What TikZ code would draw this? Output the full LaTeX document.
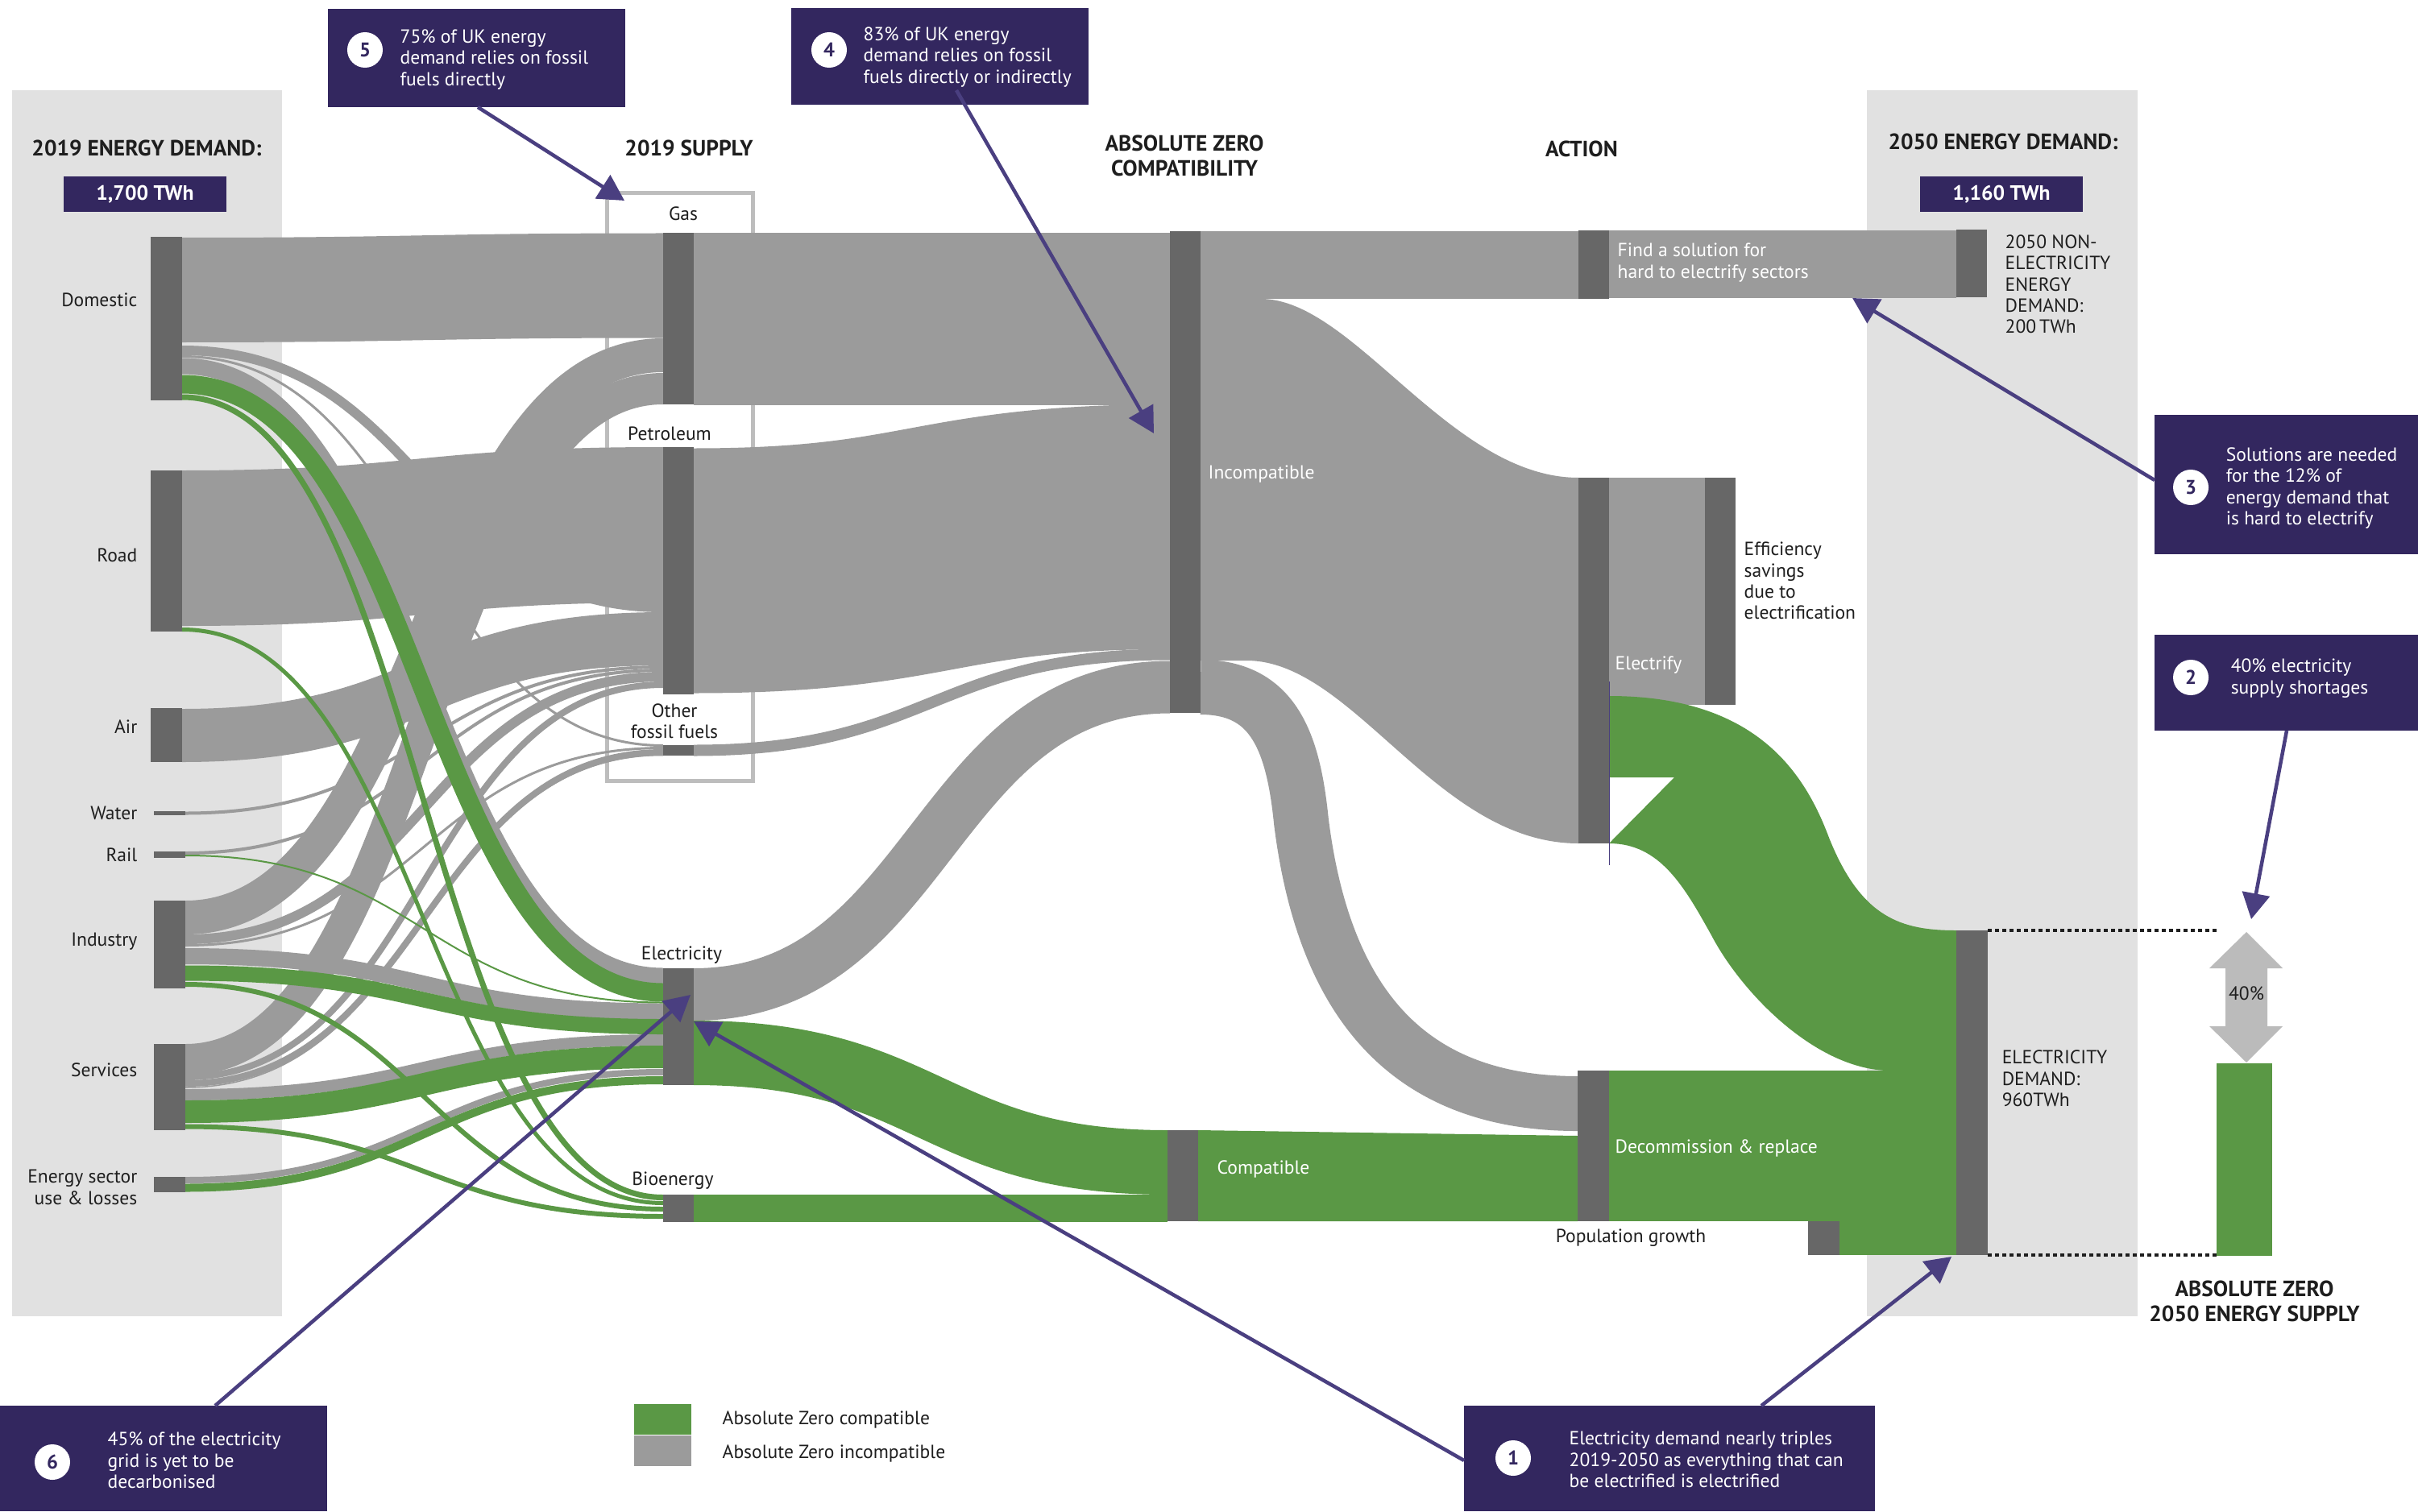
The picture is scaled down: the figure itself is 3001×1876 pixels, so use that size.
\documentclass[tikz,border=0pt]{standalone}
\usepackage{fontspec}
\setmainfont{PT Sans}
\usetikzlibrary{arrows.meta}
\definecolor{flowgrey}{HTML}{9B9B9B}
\definecolor{bargrey}{HTML}{676767}
\definecolor{zgreen}{HTML}{5A9845}
\definecolor{panel}{HTML}{E1E1E1}
\definecolor{boxpurple}{HTML}{33275F}
\definecolor{arrowpurple}{HTML}{4A3F80}
\definecolor{outlinegrey}{HTML}{BDBDBD}
\definecolor{dblarrow}{HTML}{BBBBBB}
\definecolor{txt}{HTML}{1E1E1E}
\newcommand\lk[6]{\draw[#1, line width=#6*0.01cm] (#2,#3) .. controls ({(#2+#4)/2},#3) and ({(#2+#4)/2},#5) .. (#4,#5);}
\begin{document}
\begin{tikzpicture}[x=0.01cm,y=-0.01cm,
  lbl/.style={font=\fontsize{6.7pt}{7.5pt}\selectfont, inner sep=0, text=txt},
  wlbl/.style={lbl, text=white},
  hdr/.style={font=\fontsize{7.8pt}{8.8pt}\selectfont\bfseries, inner sep=0, text=txt},
  valbox/.style={fill=boxpurple, text=white, font=\fontsize{7.3pt}{8pt}\selectfont\bfseries, minimum width=2.01cm, minimum height=0.43cm, inner sep=0},
  ctext/.style={font=\fontsize{6.7pt}{7.5pt}\selectfont, text=white, inner sep=0, align=left, anchor=west},
  numc/.style={circle, fill=white, minimum size=0.44cm, inner sep=0, font=\fontsize{7pt}{8pt}\selectfont\bfseries, text=boxpurple},
  carrow/.style={draw=arrowpurple, line width=0.045cm, -{Triangle[length=0.32cm,width=0.34cm]}},
  dotline/.style={draw=txt, line width=0.04cm, dash pattern=on 0.05cm off 0.04cm}
]
\useasboundingbox (0,0) rectangle (3001,1876);
% panels
\fill[panel] (15,112) rectangle (350,1634);
\fill[panel] (2317,112) rectangle (2653,1634);
% supply outline box
\draw[outlinegrey, line width=0.05cm] (753,240) rectangle (934,969);

% ---------- grey flows, left ----------
\lk{flowgrey}{226}{360}{823}{354.5}{130}
\lk{flowgrey}{226}{435}{823}{754}{12}
\lk{flowgrey}{226}{442.5}{823}{925.5}{3}
\lk{flowgrey}{226}{454.5}{823}{1211.5}{20}
\lk{flowgrey}{226}{680.5}{823}{651.5}{193}
\lk{flowgrey}{226}{913}{823}{793}{66}
\lk{flowgrey}{230}{1009.5}{823}{828}{4}
\lk{flowgrey}{230}{1059}{823}{832}{4}
\lk{flowgrey}{230}{1139}{823}{441}{42}
\lk{flowgrey}{230}{1166}{823}{840}{12}
\lk{flowgrey}{230}{1173.5}{823}{928.5}{3}
\lk{flowgrey}{230}{1187}{823}{1255.5}{20}
\lk{flowgrey}{230}{1315.5}{823}{482.5}{39}
\lk{flowgrey}{230}{1337}{823}{850}{8}
\lk{flowgrey}{230}{1345}{823}{934}{8}
\lk{flowgrey}{230}{1350}{823}{937.5}{1.5}
\lk{flowgrey}{230}{1359}{823}{1291}{14}
\lk{flowgrey}{230}{1465}{823}{1331}{8}

% ---------- grey flows, right ----------
\fill[flowgrey] (861,289) rectangle (1452,503);
\lk{flowgrey}{861}{708.5}{1452}{654}{304}
\lk{flowgrey}{861}{931.5}{1452}{812.5}{14}
\lk{flowgrey}{861}{1234.5}{1452}{853}{65}
\fill[flowgrey] (1490,287) rectangle (1959,371);
\fill[flowgrey] (1997,286) rectangle (2428,370);
\fill[flowgrey] (1490,371) -- (1565,371) .. controls (1680,371) and (1800,593) .. (1959,593) -- (1959,1047) .. controls (1783,1047) and (1680,820) .. (1547,820) -- (1490,820) -- cycle;
\draw[flowgrey, line width=0.68cm] (1490,853) .. controls (1580,853) and (1605,920) .. (1615,1020) .. controls (1645,1260) and (1760,1370) .. (1958,1370);
\fill[flowgrey] (1997,593) rectangle (2116,875);

% ---------- green flows ----------
\lk{zgreen}{226}{477}{823}{1232}{23}
\lk{zgreen}{226}{493}{823}{1486.5}{7}
\lk{zgreen}{226}{781.5}{823}{1493.5}{5}
\lk{zgreen}{230}{1062}{823}{1244.5}{2}
\lk{zgreen}{230}{1208}{823}{1274.5}{19}
\lk{zgreen}{230}{1222}{823}{1501}{6}
\lk{zgreen}{230}{1380}{823}{1312}{28}
\lk{zgreen}{230}{1398.5}{823}{1510}{6}
\lk{zgreen}{230}{1474.5}{823}{1341}{10}
\lk{zgreen}{861}{1307}{1449}{1443}{80}
\fill[zgreen] (861,1483) rectangle (1449,1517);
\fill[zgreen] (1487,1403) -- (1958,1410) -- (1958,1516) -- (1487,1516) -- cycle;
\fill[zgreen] (1997,1329) rectangle (2428,1516);
\fill[zgreen] (2283,1516) rectangle (2428,1558);
\fill[zgreen] (1997,864) .. controls (2180,864) and (2240,960) .. (2270,1040) .. controls (2310,1140) and (2360,1155) .. (2428,1155) -- (2428,1331) -- (2341,1329) .. controls (2250,1325) and (2160,1230) .. (2124,1161) .. controls (2090,1100) and (2060,1047) .. (1997,1047) -- (2078,965) -- (1997,965) -- cycle;

% ---------- bars ----------
\fill[bargrey] (187,294) rectangle (226,497);
\fill[bargrey] (187,584) rectangle (226,784);
\fill[bargrey] (187,879) rectangle (226,946);
\fill[bargrey] (191,1007) rectangle (230,1012);
\fill[bargrey] (191,1057) rectangle (230,1065);
\fill[bargrey] (191,1118) rectangle (230,1227);
\fill[bargrey] (191,1296) rectangle (230,1403);
\fill[bargrey] (191,1461) rectangle (230,1480);
\fill[bargrey] (823,289) rectangle (861,502);
\fill[bargrey] (823,555) rectangle (861,862);
\fill[bargrey] (823,925) rectangle (861,938);
\fill[bargrey] (823,1202) rectangle (861,1347);
\fill[bargrey] (823,1483) rectangle (861,1517);
\fill[bargrey] (1452,287) rectangle (1490,885);
\fill[bargrey] (1449,1403) rectangle (1487,1516);
\fill[bargrey] (1959,286) rectangle (1997,371);
\fill[bargrey] (1959,593) rectangle (1997,1047);
\fill[bargrey] (1958,1329) rectangle (1997,1516);
\fill[bargrey] (2428,285) rectangle (2466,369);
\fill[bargrey] (2116,593) rectangle (2154,875);
\fill[bargrey] (2244,1516) rectangle (2283,1558);
\fill[bargrey] (2428,1155) rectangle (2467,1558);
\draw[arrowpurple, line width=0.01cm] (1997,846) -- (1997,1074);

% ---------- headers ----------
\node[hdr] (h1) at (182,184) {2019 ENERGY DEMAND:};
\node[valbox] (v1) at (180,241) {1,700 TWh};
\node[hdr] (h2) at (855,184) {2019 SUPPLY};
\node[hdr, align=center] (h3) at (1470,193) {ABSOLUTE ZERO\\COMPATIBILITY};
\node[hdr] (h4) at (1963,185) {ACTION};
\node[hdr] (h5) at (2486,176) {2050 ENERGY DEMAND:};
\node[valbox] (v2) at (2484,241) {1,160 TWh};
\node[hdr, align=center] (h6) at (2798,1615) {ABSOLUTE ZERO\\2050 ENERGY SUPPLY};

% ---------- left labels ----------
\node[lbl, anchor=east] (lDom) at (171,372) {Domestic};
\node[lbl, anchor=east] (lRoad) at (171,689) {Road};
\node[lbl, anchor=east] (lAir) at (171,902) {Air};
\node[lbl, anchor=east] (lWat) at (171,1009) {Water};
\node[lbl, anchor=east] (lRail) at (171,1061) {Rail};
\node[lbl, anchor=east] (lInd) at (171,1169) {Industry};
\node[lbl, anchor=east] (lSer) at (171,1328) {Services};
\node[lbl, anchor=east, align=right] (lEn) at (171,1474) {Energy sector\\use \& losses};

% ---------- supply labels ----------
\node[lbl] (sGas) at (848,265) {Gas};
\node[lbl] (sPet) at (831,538) {Petroleum};
\node[lbl, align=center] (sOth) at (837,895) {Other\\fossil fuels};
\node[lbl] (sEl) at (846,1186) {Electricity};
\node[lbl] (sBio) at (835,1466) {Bioenergy};

% ---------- right labels ----------
\node[wlbl, anchor=west] (lInc) at (1499,589) {Incompatible};
\node[wlbl, anchor=west] (lCom) at (1510,1451) {Compatible};
\node[wlbl, anchor=west, align=left] (lFind) at (2007,326) {Find a solution for\\hard to electrify sectors};
\node[wlbl, anchor=west] (lElec) at (2004,826) {Electrify};
\node[wlbl, anchor=west] (lDec) at (2004,1425) {Decommission \& replace};
\node[lbl] (lPop) at (2024,1537) {Population growth};
\node[lbl, anchor=west, align=left] (lEff) at (2164,721) {Efficiency\\savings\\due to\\electrification};
\node[lbl, anchor=west, align=left] (lNon) at (2488,353) {2050 NON-\\ELECTRICITY\\ENERGY\\DEMAND:\\200\,TWh};
\node[lbl, anchor=west, align=left] (lED) at (2484,1339) {ELECTRICITY\\DEMAND:\\960TWh};

% ---------- 2050 supply ----------
\draw[dotline] (2467,1155) -- (2753,1155);
\draw[dotline] (2467,1558) -- (2753,1558);
\fill[dblarrow] (2788,1157) -- (2833,1202) -- (2814,1202) -- (2814,1274) -- (2833,1274) -- (2788,1319) -- (2742,1274) -- (2762,1274) -- (2762,1202) -- (2742,1202) -- cycle;
\node[lbl] (p40) at (2788,1233) {40\%};
\fill[zgreen] (2751,1320) rectangle (2820,1559);

% ---------- legend ----------
\fill[zgreen] (787,1743) rectangle (858,1781);
\fill[flowgrey] (787,1782) rectangle (858,1820);
\node[lbl, anchor=west] (lg1) at (896,1762) {Absolute Zero compatible};
\node[lbl, anchor=west] (lg2) at (896,1804) {Absolute Zero incompatible};

% ---------- callouts ----------
\fill[boxpurple] (407,11) rectangle (776,133);
\node[numc] (n5) at (453,62) {5};
\node[ctext] (c5) at (496,74) {75\% of UK energy\\demand relies on fossil\\fuels directly};
\fill[boxpurple] (982,10) rectangle (1351,130);
\node[numc] (n4) at (1029,62) {4};
\node[ctext] (c4) at (1071,71) {83\% of UK energy\\demand relies on fossil\\fuels directly or indirectly};
\fill[boxpurple] (2674,515) rectangle (3001,688);
\node[numc] (n3) at (2719,605) {3};
\node[ctext] (c3) at (2762,606) {Solutions are needed\\for the 12\% of\\energy demand that\\is hard to electrify};
\fill[boxpurple] (2674,788) rectangle (3001,907);
\node[numc] (n2) at (2719,841) {2};
\node[ctext] (c2) at (2768,842) {40\% electricity\\supply shortages};
\fill[boxpurple] (1817,1745) rectangle (2327,1876);
\node[numc] (n1) at (1878,1810) {1};
\node[ctext] (c1) at (1947,1812) {Electricity demand nearly triples\\2019-2050 as everything that can\\be electrified is electrified};
\fill[boxpurple] (0,1745) rectangle (406,1876);
\node[numc] (n6) at (65,1815) {6};
\node[ctext] (c6) at (133,1813) {45\% of the electricity\\grid is yet to be\\decarbonised};

% ---------- callout arrows ----------
\coordinate (a5s) at (593,133); \coordinate (a5t) at (775,249);
\coordinate (a4s) at (1187,112); \coordinate (a4t) at (1432,538);
\coordinate (a3s) at (2674,596); \coordinate (a3t) at (2299,370);
\coordinate (a2s) at (2838,907); \coordinate (a2t) at (2794,1141);
\coordinate (a1s) at (2186,1745); \coordinate (a1t) at (2422,1560);
\coordinate (a1b) at (1817,1813); \coordinate (a1u) at (861,1268);
\coordinate (a6s) at (267,1745); \coordinate (a6t) at (857,1235);
\draw[carrow] (a5s) -- (a5t);
\draw[carrow] (a4s) -- (a4t);
\draw[carrow] (a3s) -- (a3t);
\draw[carrow] (a2s) -- (a2t);
\draw[carrow] (a1s) -- (a1t);
\draw[carrow] (a1b) -- (a1u);
\draw[carrow] (a6s) -- (a6t);
\end{tikzpicture}
\end{document}
